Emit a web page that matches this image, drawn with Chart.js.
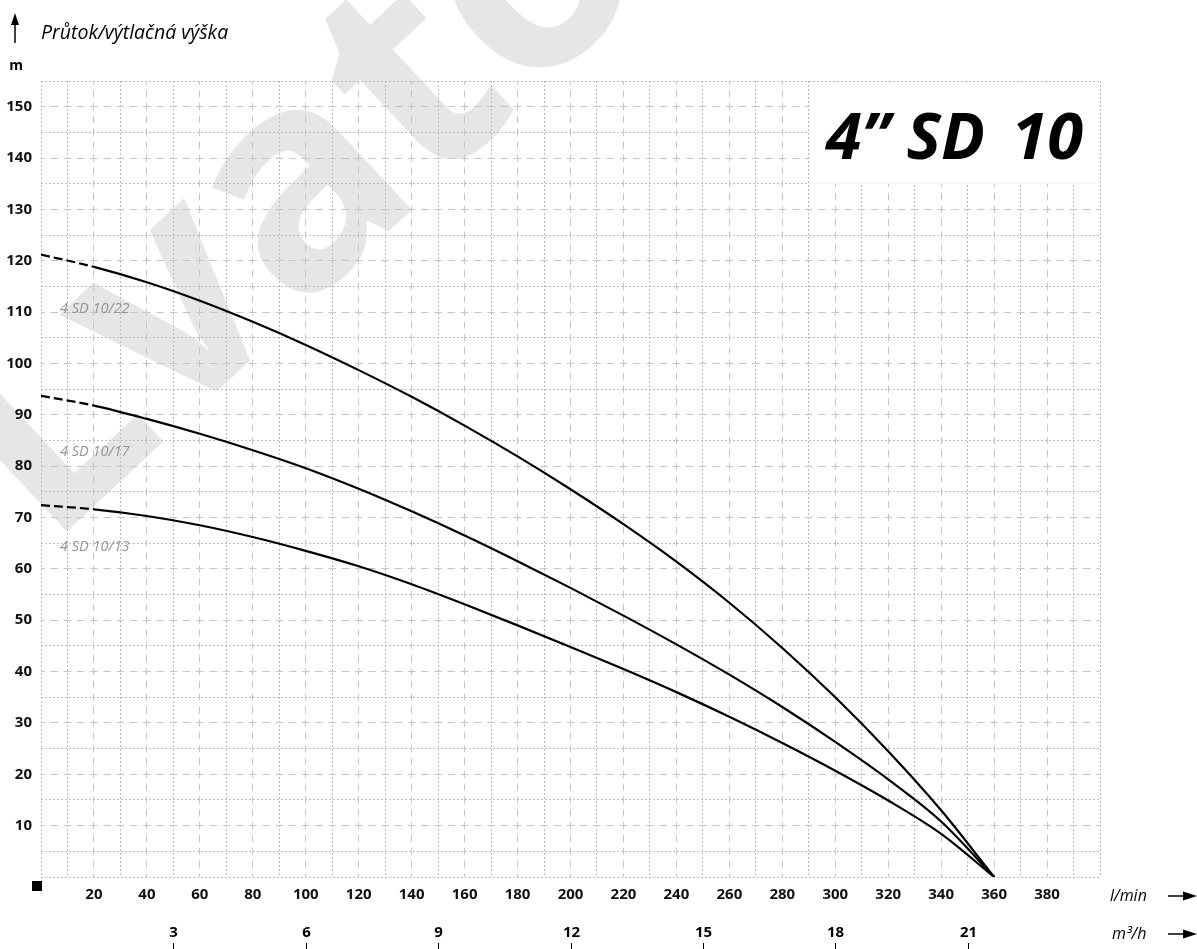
<!DOCTYPE html>
<html>
<head>
<meta charset="UTF-8">
<style>
  body { margin: 0; background: #fff; }
  #wrap { width: 1197px; height: 949px; }
</style>
</head>
<body>
<div id="wrap"><canvas id="myChart" width="1197" height="949"></canvas></div>
<script src="https://cdn.jsdelivr.net/npm/chart.js"></script>
<script>
// flow in l/min
var flow_lmin = [0, 20, 40, 60, 80, 100, 120, 140, 160, 180, 200, 220, 240, 260, 280, 300, 320, 340, 360];
// head in m
var head_22 = [121.2, 118.8, 115.8, 112.2, 108.1, 103.6, 98.7, 93.5, 87.9, 81.9, 75.5, 68.7, 61.4, 53.4, 44.6, 35.0, 24.5, 13.0, 0];
var head_17 = [93.7, 91.8, 89.2, 86.3, 83.1, 79.6, 75.6, 71.2, 66.5, 61.5, 56.3, 50.9, 45.3, 39.4, 33.1, 26.3, 19.0, 10.8, 0];
var head_13 = [72.4, 71.6, 70.3, 68.5, 66.2, 63.5, 60.5, 57.0, 53.1, 49.0, 44.8, 40.5, 36.0, 31.2, 26.1, 20.7, 14.9, 8.4, 0];
var model_names = ["4 SD 10/22", "4 SD 10/17", "4 SD 10/13"];
var label_pos_x = [7.2, 7.2, 7.2];
var label_pos_y = [110.7, 82.7, 64.2];
var m3h_ticks = [3, 6, 9, 12, 15, 18, 21];
var y_title = "Průtok/výtlačná výška";

Chart.defaults.font.family = "'Open Sans', sans-serif";

function to_points(ys){
  var pts = [];
  for (var i = 0; i < flow_lmin.length; i++) pts.push({x: flow_lmin[i], y: ys[i]});
  return pts;
}

var DOT = '#bdbdbd';
var DASH = '#c6c6c6';

function majorX(v){ return v % 20 === 0 && v > 0 && v < 400; }
function majorY(v){ return v % 10 === 0 && v > 0 && v < 155; }

var curveStyle = {
  borderColor: '#000',
  borderWidth: 2.2,
  pointRadius: 0,
  fill: false,
  cubicInterpolationMode: 'monotone',
  segment: {
    borderDash: function(ctx){ return ctx.p1.parsed.x <= 20 ? [9, 4] : undefined; }
  }
};

var watermark = {
  id: 'watermark',
  beforeDraw: function(chart){
    var ctx = chart.ctx;
    ctx.save();
    ctx.fillStyle = '#fff';
    ctx.fillRect(0, 0, chart.width, chart.height);
    ctx.translate(47, 550);
    ctx.rotate(-43 * Math.PI / 180);
    ctx.fillStyle = '#e6e6e6';
    ctx.font = "bold 300px 'Open Sans'";
    ctx.textBaseline = 'alphabetic';
    ctx.fillText('Lvato', 0, 0);
    ctx.restore();
  }
};

var extras = {
  id: 'extras',
  afterDraw: function(chart){
    var ctx = chart.ctx;
    var x = chart.scales.x, y = chart.scales.y;
    var a = chart.chartArea;
    ctx.save();

    // white box under the title
    var bx = x.getPixelForValue(290) + 1, by = y.getPixelForValue(155) + 1;
    ctx.fillStyle = '#fff';
    ctx.fillRect(bx, by, x.getPixelForValue(400) - 1 - bx, y.getPixelForValue(135) - by);
    ctx.fillStyle = '#000';
    ctx.font = "italic bold 65px 'Open Sans'";
    ctx.textAlign = 'right';
    ctx.textBaseline = 'alphabetic';
    ctx.fillText('10', 1083, 159);
    ctx.fillText('4\u201D SD', 985, 159);

    // model labels
    ctx.font = "italic 14.5px 'Open Sans'";
    ctx.fillStyle = '#959595';
    ctx.textAlign = 'left';
    ctx.textBaseline = 'middle';
    for (var i = 0; i < model_names.length; i++) {
      ctx.fillText(model_names[i], x.getPixelForValue(label_pos_x[i]), y.getPixelForValue(label_pos_y[i]));
    }

    // origin square
    ctx.fillStyle = '#000';
    ctx.fillRect(a.left - 9, a.bottom + 4, 10, 10);

    // y title + arrow
    ctx.font = "italic 19.5px 'Open Sans'";
    ctx.textAlign = 'left';
    ctx.fillText(y_title, 41, 33);
    ctx.strokeStyle = '#000';
    ctx.lineWidth = 1.5;
    ctx.beginPath(); ctx.moveTo(15, 43); ctx.lineTo(15, 22); ctx.stroke();
    ctx.beginPath(); ctx.moveTo(15, 13); ctx.lineTo(11, 25); ctx.lineTo(19, 25); ctx.closePath(); ctx.fill();

    ctx.font = "bold 14px 'Open Sans'";
    ctx.textAlign = 'center';
    ctx.fillText('m', 16, 66);

    // units + arrows
    ctx.font = "italic 16px 'Open Sans'";
    ctx.textAlign = 'left';
    ctx.fillText('l/min', 1110, 896);
    ctx.fillText('m\u00B3/h', 1112, 934);
    [896, 934].forEach(function(ay){
      ctx.beginPath(); ctx.moveTo(1168, ay); ctx.lineTo(1186, ay); ctx.stroke();
      ctx.beginPath(); ctx.moveTo(1197, ay); ctx.lineTo(1183, ay - 4.5); ctx.lineTo(1183, ay + 4.5); ctx.closePath(); ctx.fill();
    });

    // m3/h scale
    ctx.font = "bold 15px 'Open Sans'";
    ctx.textAlign = 'center';
    ctx.lineWidth = 1;
    m3h_ticks.forEach(function(v){
      var px = Math.round(x.getPixelForValue(v * 1000 / 60)) + 0.5;
      ctx.fillText(String(v), px, 933);
      ctx.beginPath(); ctx.moveTo(px, 943); ctx.lineTo(px, 949); ctx.stroke();
    });
    ctx.restore();
  }
};

new Chart(document.getElementById('myChart'), {
  type: 'line',
  data: {
    datasets: [
      Object.assign({label: model_names[0], data: to_points(head_22)}, curveStyle),
      Object.assign({label: model_names[1], data: to_points(head_17)}, curveStyle),
      Object.assign({label: model_names[2], data: to_points(head_13)}, curveStyle)
    ]
  },
  options: {
    responsive: false,
    animation: false,
    layout: { padding: { left: 0, right: 97, top: 81, bottom: 0 } },
    plugins: { legend: { display: false }, tooltip: { enabled: false } },
    scales: {
      x: {
        type: 'linear', min: 0, max: 400,
        afterFit: function(s){ s.height = 72; },
        ticks: {
          stepSize: 10, autoSkip: false, maxRotation: 0, padding: 9,
          color: '#111', font: { size: 15, weight: 'bold' },
          callback: function(v){ return majorX(v) ? String(v) : ''; }
        },
        grid: {
          drawTicks: false, lineWidth: 1,
          color: function(c){ return majorX(c.tick.value) ? DASH : DOT; }
        },
        border: {
          display: false,
          dash: function(c){
            if (!majorX(c.tick.value)) return [2, 2];
            var ys = c.chart.scales.y;
            var h = Math.abs(ys.getPixelForValue(0) - ys.getPixelForValue(5)) / 2;
            return [7, h - 7];
          },
          dashOffset: function(c){ return majorX(c.tick.value) ? 3.5 : 0; }
        }
      },
      y: {
        type: 'linear', min: 0, max: 155,
        afterFit: function(s){ s.width = 41; },
        ticks: {
          stepSize: 5, autoSkip: false, padding: 9,
          color: '#111', font: { size: 15, weight: 'bold' },
          callback: function(v){ return majorY(v) && v <= 150 ? String(v) : ''; }
        },
        grid: {
          drawTicks: false, lineWidth: 1,
          color: function(c){ return majorY(c.tick.value) ? DASH : DOT; }
        },
        border: {
          display: false,
          dash: function(c){
            if (!majorY(c.tick.value)) return [2, 2];
            var xs = c.chart.scales.x;
            var w = Math.abs(xs.getPixelForValue(10) - xs.getPixelForValue(0)) / 2;
            return [7.5, w - 7.5];
          },
          dashOffset: function(c){ return majorY(c.tick.value) ? 3.75 : 0; }
        }
      }
    }
  },
  plugins: [watermark, extras]
});
</script>
</body>
</html>
